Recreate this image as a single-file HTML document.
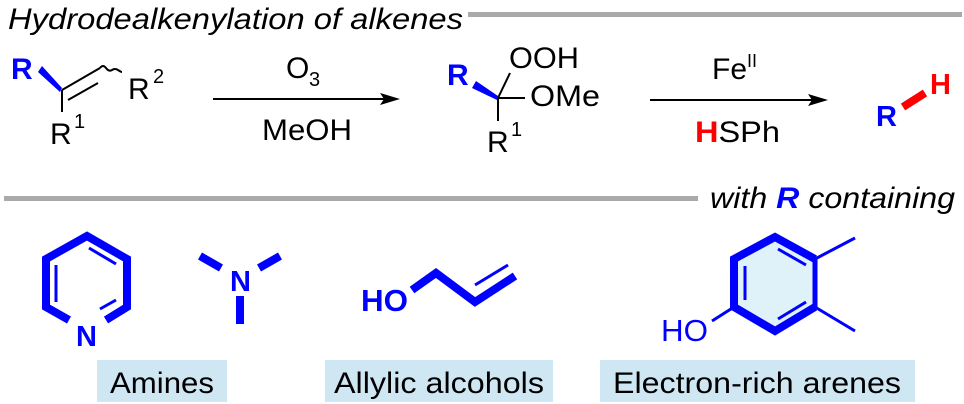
<!DOCTYPE html>
<html><head><meta charset="utf-8"><style>
html,body{margin:0;padding:0;background:#fff;}
svg{display:block;}
text{font-family:"Liberation Sans",sans-serif;}
</style></head><body>
<svg width="964" height="404" viewBox="0 0 964 404" xmlns="http://www.w3.org/2000/svg">
<!-- header -->
<text x="8" y="29" font-size="30" font-style="italic" textLength="455" lengthAdjust="spacingAndGlyphs">Hydrodealkenylation of alkenes</text>
<rect x="468" y="12" width="494" height="5" fill="#aaa"/>

<!-- start alkene -->
<text x="11" y="79" font-size="30" font-weight="bold" fill="#0000ff">R</text>
<polygon points="38,72 42,66 62,88 60,92" fill="#0000ff"/>
<line x1="62" y1="90" x2="100" y2="68" stroke="#000" stroke-width="2"/>
<line x1="68" y1="100" x2="98" y2="83" stroke="#000" stroke-width="2"/>
<path d="M100,68 q3,-4 6,0 t6,2 t6,0 t4,2" fill="none" stroke="#000" stroke-width="2"/>
<line x1="62" y1="90" x2="62" y2="112" stroke="#000" stroke-width="2"/>
<text x="128" y="99" font-size="30">R</text><text x="153" y="83" font-size="20">2</text>
<text x="50" y="144" font-size="30">R</text><text x="74" y="128" font-size="20">1</text>

<!-- arrow 1 -->
<line x1="213" y1="99" x2="385" y2="99" stroke="#000" stroke-width="2"/>
<polygon points="400,99 380,93 384,99 380,105" fill="#000"/>
<text x="286" y="78" font-size="30">O</text><text x="309" y="86" font-size="20">3</text>
<text x="262" y="140" font-size="30" textLength="90" lengthAdjust="spacingAndGlyphs">MeOH</text>

<!-- intermediate -->
<text x="447" y="85" font-size="30" font-weight="bold" fill="#0000ff">R</text>
<polygon points="472,88 476,81 498,96 497,100" fill="#0000ff"/>
<line x1="498" y1="98" x2="510" y2="73" stroke="#000" stroke-width="2"/>
<line x1="498" y1="98" x2="525" y2="98" stroke="#000" stroke-width="2"/>
<line x1="498" y1="98" x2="498" y2="121" stroke="#000" stroke-width="2"/>
<text x="509" y="68" font-size="30" textLength="70" lengthAdjust="spacingAndGlyphs">OOH</text>
<text x="530" y="106" font-size="30" textLength="70" lengthAdjust="spacingAndGlyphs">OMe</text>
<text x="487" y="152" font-size="30">R</text><text x="511" y="136" font-size="20">1</text>

<!-- arrow 2 -->
<line x1="650" y1="100" x2="813" y2="100" stroke="#000" stroke-width="2"/>
<polygon points="828,100 808,94 812,100 808,106" fill="#000"/>
<text x="712" y="79" font-size="30">Fe</text><text x="747" y="67" font-size="18">II</text>
<text x="695" y="142" font-size="30" textLength="85" lengthAdjust="spacingAndGlyphs"><tspan fill="#ff0000" font-weight="bold">H</tspan>SPh</text>

<!-- product -->
<text x="876" y="126" font-size="29" font-weight="bold" fill="#0000ff">R</text>
<line x1="903" y1="107" x2="925" y2="93" stroke="#ff0000" stroke-width="8"/>
<text x="930" y="94" font-size="29" font-weight="bold" fill="#ff0000">H</text>

<!-- divider -->
<rect x="4" y="196" width="694" height="5" fill="#aaa"/>
<text x="710" y="208" font-size="30" font-style="italic" textLength="245" lengthAdjust="spacingAndGlyphs">with <tspan fill="#0000ff" font-weight="bold">R</tspan> containing</text>

<!-- pyridine -->
<g stroke="#0000ff" fill="none" stroke-linecap="butt">
<polyline points="69,320 46,307 46,259 87,236 127,259 127,307 106,320" stroke-width="8" stroke-linejoin="miter"/>
<line x1="56" y1="265" x2="56" y2="302" stroke-width="3"/>
<line x1="89" y1="248" x2="116" y2="264" stroke-width="3"/>
<line x1="100" y1="309" x2="116" y2="300" stroke-width="3"/>
</g>
<text x="76" y="346" font-size="29" font-weight="bold" fill="#0000ff">N</text>

<!-- NMe3 -->
<g stroke="#0000ff" stroke-width="8">
<line x1="200" y1="256" x2="221" y2="268"/>
<line x1="280" y1="256" x2="259" y2="268"/>
<line x1="240" y1="296" x2="240" y2="324"/>
</g>
<text x="230" y="291" font-size="29" font-weight="bold" fill="#0000ff">N</text>

<!-- allyl alcohol -->
<text x="361" y="311" font-size="31" font-weight="bold" fill="#0000ff" textLength="47" lengthAdjust="spacingAndGlyphs">HO</text>
<polyline points="412,290 436,273 475,302 515,276" fill="none" stroke="#0000ff" stroke-width="8" stroke-linejoin="miter"/>
<line x1="475" y1="285" x2="508" y2="265" stroke="#0000ff" stroke-width="3"/>

<!-- arene -->
<polygon points="775,237 815,259 815,307 775,331 734,307 734,259" fill="#dff2fa"/>
<g stroke="#0000ff" fill="none">
<polyline points="815,307 775,331 734,307 734,259 775,237 815,259" stroke-width="8" stroke-linejoin="miter"/>
<line x1="815" y1="259" x2="815" y2="307" stroke-width="5"/>
<line x1="745" y1="266" x2="745" y2="300" stroke-width="3"/>
<line x1="778" y1="249" x2="806" y2="265" stroke-width="3"/>
<line x1="778" y1="319" x2="806" y2="302" stroke-width="3"/>
<line x1="815" y1="259" x2="855" y2="238" stroke-width="3"/>
<line x1="815" y1="307" x2="855" y2="331" stroke-width="3"/>
<line x1="712" y1="321" x2="734" y2="307" stroke-width="3"/>
</g>
<text x="661" y="341" font-size="31" fill="#0000ff" textLength="47" lengthAdjust="spacingAndGlyphs">HO</text>

<!-- labels -->
<rect x="97" y="360" width="130" height="42" fill="#cfe6f3"/>
<text x="162" y="393" font-size="30" text-anchor="middle" textLength="104" lengthAdjust="spacingAndGlyphs">Amines</text>
<rect x="325" y="360" width="228" height="42" fill="#cfe6f3"/>
<text x="439" y="393" font-size="30" text-anchor="middle" textLength="210" lengthAdjust="spacingAndGlyphs">Allylic alcohols</text>
<rect x="600" y="360" width="315" height="42" fill="#cfe6f3"/>
<text x="757" y="393" font-size="30" text-anchor="middle" textLength="288" lengthAdjust="spacingAndGlyphs">Electron-rich arenes</text>
</svg>
</body></html>
